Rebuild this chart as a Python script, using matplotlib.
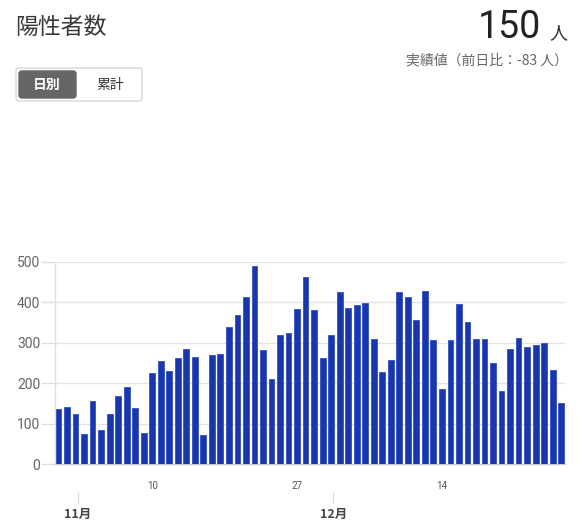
import matplotlib
matplotlib.use("Agg")
import matplotlib.pyplot as plt
from matplotlib.patches import FancyBboxPatch
import matplotlib.transforms as mtransforms

plt.rcParams['font.family'] = ['Noto Sans CJK JP', 'DejaVu Sans']

# Daily values, Oct 30 .. Dec 28 (index 0 .. 59)
values = [137, 142, 123, 73, 156, 85, 124, 169, 191, 139,
          77, 226, 255, 231, 263, 284, 265, 72, 269, 273,
          338, 369, 413, 489, 281, 209, 318, 325, 382, 462,
          380, 262, 318, 426, 385, 393, 399, 310, 227, 258,
          426, 413, 356, 428, 307, 185, 306, 395, 350, 308,
          310, 250, 180, 283, 311, 288, 293, 298, 233, 150]
day_tick_idx = [11, 28, 45]
day_tick_labels = ["10", "27", "14"]
month_tick_idx = [2, 32]
month_labels = ["11月", "12月"]
y_ticks = [0, 100, 200, 300, 400, 500]

W, H = 586, 525
fig = plt.figure(figsize=(W / 100, H / 100), dpi=100)
fig.patch.set_facecolor("white")

def fx(px):
    return px / W

def fy(py):
    return 1 - py / H

# Header
fig.text(fx(15), fy(27), "陽性者数", fontsize=16.5, color="#3a3a3a", va="center", ha="left")
fig.text(fx(541), fy(27), "150", fontsize=27, color="#222222", va="center", ha="right",
         family=["Roboto", "DejaVu Sans"])
fig.text(fx(549), fy(33), "人", fontsize=13, color="#333333", va="center", ha="left")
fig.text(fx(568), fy(60), "実績値（前日比：-83 人）", fontsize=10, color="#666666",
         va="center", ha="right")

# Toggle buttons
outer = FancyBboxPatch((fx(16), fy(101)), fx(126), 33 / H,
                       boxstyle="round,pad=0,rounding_size=0.006",
                       transform=fig.transFigure, facecolor="white",
                       edgecolor="#d8d8d8", linewidth=1)
fig.patches.append(outer)
inner = FancyBboxPatch((fx(19), fy(98)), fx(57), 27 / H,
                       boxstyle="round,pad=0,rounding_size=0.005",
                       transform=fig.transFigure, facecolor="#666666",
                       edgecolor="#666666", linewidth=1)
fig.patches.append(inner)
fig.text(fx(47), fy(85), "日別", fontsize=10, color="white", weight="bold",
         va="center", ha="center")
fig.text(fx(110), fy(85), "累計", fontsize=10, color="#333333",
         va="center", ha="center")

# Chart axes
left, right = 55, 565
top, bottom = 261.7, 464
ax = fig.add_axes([fx(left), fy(bottom), fx(right - left), (bottom - top) / H])

x = list(range(len(values)))
ax.bar(x, values, width=0.68, color="#1a36ad", edgecolor="#3353c6", linewidth=0.6, zorder=3)

ax.set_ylim(0, 500)
ax.set_xlim(-0.41, 59.45)
ax.set_yticks(y_ticks)
ax.set_yticklabels([str(v) for v in y_ticks], fontsize=10, color="#666666",
                   family=["Roboto", "DejaVu Sans"])
ax.tick_params(axis="y", length=10, color="#dddddd", pad=0.5, width=1)
ax.grid(axis="y", color="#e3e3e3", linewidth=1, zorder=0)
ax.set_axisbelow(True)

ax.set_xticks(day_tick_idx)
ax.set_xticklabels(day_tick_labels, fontsize=7, color="#555555",
                   family=["Roboto", "DejaVu Sans"])
ax.tick_params(axis="x", length=0, pad=12)

for s in ["top", "right"]:
    ax.spines[s].set_visible(False)
ax.spines["left"].set_color("#e0e0e0")
ax.spines["bottom"].set_color("#cccccc")
ax.spines["left"].set_linewidth(1)
ax.spines["bottom"].set_linewidth(1)

# Month ticks and labels
trans = mtransforms.blended_transform_factory(ax.transData, ax.transAxes)
for idx, lab in zip(month_tick_idx, month_labels):
    xm = idx + 0.25
    ax.plot([xm, xm], [-0.143, -0.193], transform=trans, color="#dddddd",
            linewidth=1, clip_on=False)
    ax.text(xm, -0.25, lab, transform=trans, fontsize=9, color="#444444",
            weight="bold", ha="center", va="center")

fig.savefig("out.png", dpi=100, facecolor="white")
